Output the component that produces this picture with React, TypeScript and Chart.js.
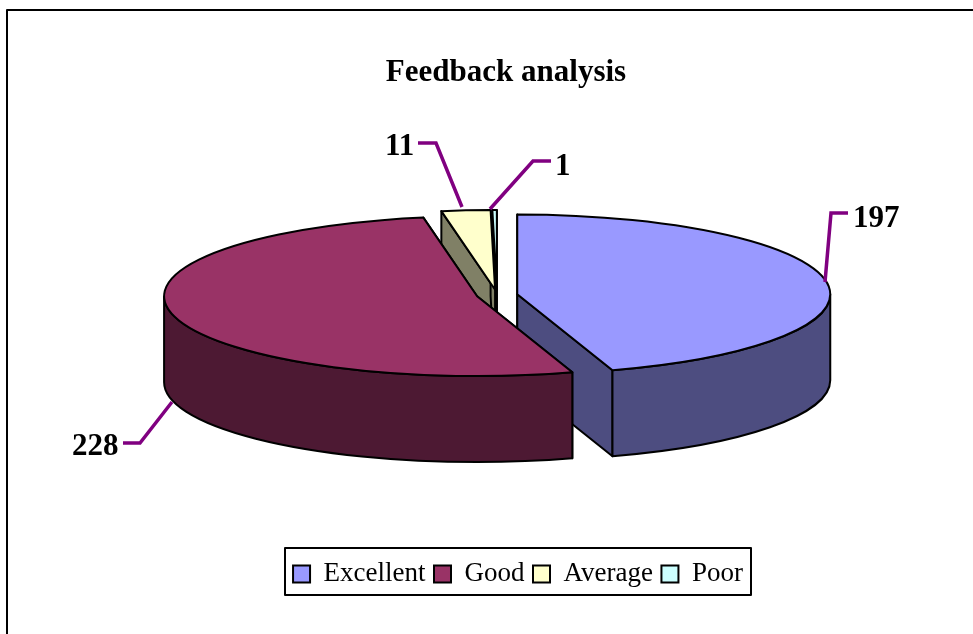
import React, { useEffect, useRef } from "react";
import { Chart, registerables } from "chart.js";

Chart.register(...registerables);

const chartTitle = "Feedback analysis";
const categories = ["Excellent", "Good", "Average", "Poor"];
const values = [197, 228, 11, 1];
const topColors = ["#9999ff", "#993366", "#ffffcc", "#ccffff"];
const wallColors = ["#4d4d80", "#4d1933", "#808066", "#668080"];

const FONT = "'Liberation Serif', 'Times New Roman', serif";
const PIE_X = 497;
const PIE_Y = 295;
const SQUASH = 0.255;
const DEPTH = 86;
const RADIUS = 313;
const EXPLODE = 20.5;

// Leader line routes and label anchors, in the same order as the categories
const leaders = [
  { pts: [[825, 282], [831, 213], [848, 213]], tx: 853, ty: 219 },
  { pts: [[172, 402], [140, 443], [123, 443]], tx: 72, ty: 447 },
  { pts: [[462, 207], [436, 143], [418, 143]], tx: 385, ty: 147 },
  { pts: [[490, 209], [533, 161], [551, 161]], tx: 555, ty: 167 },
];

function centre(el: any) {
  const mid = (el.startAngle + el.endAngle) / 2;
  return {
    x: PIE_X + Math.cos(mid) * EXPLODE,
    y: PIE_Y + Math.sin(mid) * EXPLODE * SQUASH,
  };
}

function rim(c: { x: number; y: number }, a: number, R: number) {
  return { x: c.x + Math.cos(a) * R, y: c.y + Math.sin(a) * R * SQUASH };
}

function paint(ctx: CanvasRenderingContext2D, fill: string) {
  ctx.fillStyle = fill;
  ctx.fill();
  ctx.strokeStyle = "#000";
  ctx.lineWidth = 2;
  ctx.lineJoin = "round";
  ctx.stroke();
}

function cutFace(ctx: CanvasRenderingContext2D, c: any, a: number, R: number, fill: string) {
  const p = rim(c, a, R);
  ctx.beginPath();
  ctx.moveTo(c.x, c.y);
  ctx.lineTo(p.x, p.y);
  ctx.lineTo(p.x, p.y + DEPTH);
  ctx.lineTo(c.x, c.y + DEPTH);
  ctx.closePath();
  paint(ctx, fill);
}

function drawWall(ctx: CanvasRenderingContext2D, el: any, fill: string) {
  const c = centre(el);
  const R = el.outerRadius;
  cutFace(ctx, c, el.startAngle, R, fill);
  cutFace(ctx, c, el.endAngle, R, fill);
  const a0 = Math.max(el.startAngle, 0);
  const a1 = Math.min(el.endAngle, Math.PI);
  if (a1 > a0) {
    ctx.beginPath();
    ctx.ellipse(c.x, c.y, R, R * SQUASH, 0, a0, a1);
    ctx.ellipse(c.x, c.y + DEPTH, R, R * SQUASH, 0, a1, a0, true);
    ctx.closePath();
    paint(ctx, fill);
  }
}

const piePlugin = {
  id: "pie3d",
  afterLayout(chart: any) {
    const t = chart.titleBlock;
    t.left = 506 - 150;
    t.right = 506 + 150;
    t.top = 54;
    const l = chart.legend;
    l.left = 265;
    l.right = 771;
    l.top = 552;
  },
  // The slices are drawn here by the library's own arc elements, each one
  // moved out of the pie and flattened; the default pass is skipped.
  beforeDatasetDraw(chart: any) {
    const ctx = chart.ctx as CanvasRenderingContext2D;
    const arcs = chart.getDatasetMeta(0).data;
    ctx.save();
    // back to front: the good slice hides the walls of its neighbours
    [3, 2, 0, 1].forEach((i) => drawWall(ctx, arcs[i], wallColors[i]));
    ctx.restore();
    arcs.forEach((el: any) => {
      const c = centre(el);
      ctx.save();
      ctx.translate(c.x, c.y);
      ctx.scale(1, SQUASH);
      ctx.translate(-el.x, -el.y);
      el.draw(ctx);
      ctx.restore();
    });
    arcs.forEach((el: any) => {
      const c = centre(el);
      ctx.beginPath();
      ctx.moveTo(c.x, c.y);
      ctx.ellipse(c.x, c.y, el.outerRadius, el.outerRadius * SQUASH, 0, el.startAngle, el.endAngle);
      ctx.closePath();
      ctx.strokeStyle = "#000";
      ctx.lineWidth = 2;
      ctx.lineJoin = "round";
      ctx.stroke();
    });
    return false;
  },
  afterDraw(chart: any) {
    const ctx = chart.ctx as CanvasRenderingContext2D;
    ctx.save();
    // outer frame
    ctx.strokeStyle = "#000";
    ctx.lineWidth = 2;
    ctx.beginPath();
    ctx.moveTo(7, 634);
    ctx.lineTo(7, 10);
    ctx.lineTo(973, 10);
    ctx.stroke();
    // legend frame
    ctx.strokeRect(285, 548, 466, 47);
    // leaders and value labels
    leaders.forEach((leader, i) => {
      ctx.beginPath();
      leader.pts.forEach(([x, y], j) => (j ? ctx.lineTo(x, y) : ctx.moveTo(x, y)));
      ctx.strokeStyle = "#800080";
      ctx.lineWidth = 3.5;
      ctx.lineJoin = "miter";
      ctx.stroke();
      ctx.fillStyle = "#000";
      ctx.font = `bold 31px ${FONT}`;
      ctx.textAlign = "left";
      ctx.textBaseline = "middle";
      ctx.fillText(String(values[i]), leader.tx, leader.ty);
    });
    ctx.restore();
  },
};

export default function App() {
  const ref = useRef<HTMLCanvasElement>(null);
  useEffect(() => {
    document.body.style.margin = "0";
    document.body.style.background = "#fff";
    const chart = new Chart(ref.current!, {
      type: "pie",
      data: {
        labels: categories,
        datasets: [
          {
            data: values,
            backgroundColor: topColors,
            borderWidth: 0,
            radius: RADIUS,
            clip: false,
          } as any,
        ],
      },
      options: {
        responsive: false,
        animation: false,
        events: [],
        layout: { padding: 0 },
        plugins: {
          tooltip: { enabled: false },
          title: {
            display: true,
            text: chartTitle,
            color: "#000",
            padding: 0,
            font: { family: FONT, size: 31, weight: "bold" },
          },
          legend: {
            display: true,
            position: "bottom",
            labels: {
              color: "#000",
              boxWidth: 17,
              boxHeight: 17,
              padding: 8.5,
              font: { family: FONT, size: 27 },
              generateLabels: () =>
                categories.map((text, index) => ({
                  text,
                  index,
                  fillStyle: topColors[index],
                  strokeStyle: "#000",
                  lineWidth: 2,
                  hidden: false,
                })),
            },
          },
        },
      },
      plugins: [piePlugin],
    } as any);
    return () => chart.destroy();
  }, []);
  return <canvas ref={ref} width={973} height={634} style={{ display: "block", width: 973, height: 634, background: "#fff" }} />;
}
